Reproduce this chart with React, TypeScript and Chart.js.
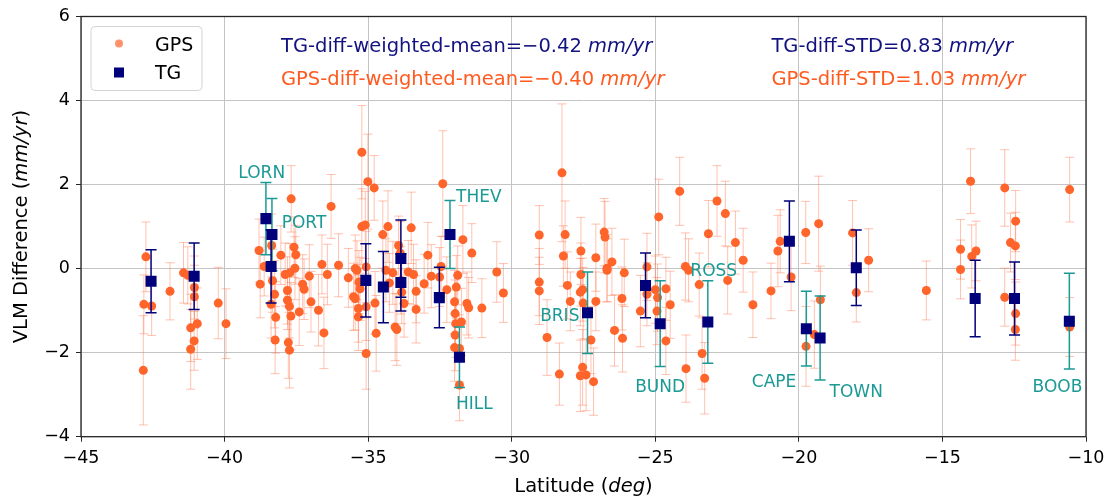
import React, { useEffect, useRef } from 'react';
import { Chart, registerables } from 'chart.js';
Chart.register(...registerables);

// ---------- DATA ----------
const gpsLat = [
  -42.83, -42.81, -42.74, -42.54, -41.90, -41.43, -41.28, -41.18, -41.18, -41.06,
  -41.05, -41.05, -40.95, -40.22, -39.95, -38.80, -38.76, -38.62, -38.36, -38.38,
  -38.33, -38.26, -38.22, -38.24, -38.04, -37.89, -37.81, -37.81, -37.74, -37.73,
  -37.69, -37.68, -37.78, -37.74, -37.58, -37.52, -37.55, -37.40, -37.28, -37.23,
  -37.05, -36.99, -36.73, -36.61, -36.42, -36.54, -36.29, -36.03, -35.69, -35.51,
  -35.45, -35.45, -35.39, -35.34, -35.34, -35.32, -35.28, -35.22, -35.22, -35.10,
  -35.07, -35.07, -35.07, -35.01, -34.79, -34.76, -34.72, -34.49, -34.38, -34.31,
  -34.26, -34.14, -34.06, -34.00, -33.94, -33.88, -33.86, -33.83, -33.75, -33.60,
  -33.50, -33.42, -33.33, -33.33, -33.05, -32.92, -32.80, -32.51, -32.46, -32.40,
  -32.26, -31.99, -31.97, -31.95, -31.97, -31.99, -31.93, -31.88, -31.82, -31.82,
  -31.75, -31.70, -31.56, -31.50, -31.39, -31.04, -30.52, -30.29, -29.04, -29.04,
  -29.04, -28.77, -28.34, -28.25, -28.20, -28.14, -28.06, -27.96, -27.59, -27.59,
  -27.61, -27.53, -27.51, -27.24, -27.53, -27.61, -27.41, -27.15, -27.07, -27.07,
  -26.78, -26.75, -26.68, -26.68, -26.51, -26.42, -26.16, -26.08, -26.14, -25.52,
  -25.29, -25.29, -24.88, -25.00, -24.92, -24.94, -24.63, -24.48, -24.63, -24.15,
  -23.95, -23.84, -23.93, -23.47, -23.37, -23.28, -23.15, -22.85, -22.56, -22.48,
  -22.21, -21.94, -21.60, -20.97, -20.73, -20.65, -20.27, -19.76, -19.75, -19.46,
  -19.31, -19.25, -18.13, -18.00, -17.57, -15.56, -14.37, -14.37, -14.02, -13.98,
  -13.83, -12.83, -12.63, -12.46, -12.45, -12.83, -12.45, -12.46, -10.57, -10.57,
];
const gpsVal = [
  -2.42, -0.85, 0.28, -0.89, -0.54, -0.10, -0.16, -1.41, -1.92, -1.72,
  -0.45, -0.67, -1.31, -0.82, -1.31, 0.43, -0.37, 0.05, 0.55, -0.85,
  -0.29, -0.61, -1.16, -1.70, 0.32, -0.14, -0.52, -0.75, -0.90, -0.10,
  -1.13, 1.66, -1.76, -1.94, 0.51, 0.33, 0.01, -1.03, -0.37, -0.49,
  -0.18, -0.79, -0.99, 0.10, -0.14, -1.53, 1.48, 0.08, -0.22, -0.67,
  0.00, -0.71, -0.04, -0.95, -1.15, -0.32, -0.48, 2.77, 1.00, 1.04,
  0.04, -0.91, -2.02, 2.07, 1.92, -0.82, -1.54, 0.81, -0.04, 1.00,
  -0.34, -0.10, -1.39, -1.45, 0.55, 0.37, -0.28, -0.56, -0.83, -0.08,
  0.97, -0.14, -0.54, -0.97, -0.36, 0.32, -0.18, -0.20, 0.05, 2.02,
  -0.50, -0.79, -1.07, -1.31, -1.58, -1.88, -0.44, -0.16, -1.90, -2.77,
  -1.27, 0.69, -0.83, -0.93, 0.37, -0.94, -0.08, -0.58, 0.80, -0.32,
  -0.53, -1.64, -2.51, 2.28, 0.30, 0.81, -0.40, -0.78, 0.42, -0.14,
  -0.56, -0.50, -0.82, -1.70, -2.35, -2.55, -2.53, -2.69, 0.26, -0.78,
  0.87, 0.75, 0.01, -0.04, 0.16, -1.47, -0.71, -0.10, -1.66, -1.01,
  0.04, -0.61, 1.23, -0.50, -0.69, -1.01, -0.48, -0.86, -1.72, 1.84,
  0.05, -0.04, -2.38, -0.38, -2.02, -2.61, 0.83, 1.61, 1.31, -0.28,
  0.62, 0.20, -0.86, -0.53, 0.42, 0.65, -0.20, 0.86, -1.85, -1.57,
  1.07, -0.74, 0.85, -0.57, 0.20, -0.52, 0.46, -0.02, 2.08, 0.29,
  0.42, 1.92, 0.62, 0.54, 1.13, -0.68, -1.07, -1.45, 1.88, -1.39,
];
const gpsErr = [
  1.30, 0.70, 0.83, 0.70, 0.68, 0.72, 0.68, 0.80, 0.95, 0.70,
  0.75, 0.75, 0.85, 0.85, 0.83, 0.75, 0.80, 0.70, 0.75, 0.80,
  0.75, 0.80, 0.85, 0.80, 0.70, 0.75, 0.80, 0.70, 0.75, 0.70,
  0.80, 0.79, 0.85, 0.90, 0.72, 0.70, 0.75, 0.80, 0.70, 0.72,
  0.75, 0.72, 0.85, 0.70, 0.72, 0.85, 0.76, 0.75, 0.70, 0.80,
  0.80, 0.75, 0.70, 0.80, 0.80, 0.75, 0.75, 1.11, 0.90, 0.80,
  0.85, 0.80, 0.85, 1.13, 0.77, 0.75, 0.90, 0.80, 0.75, 0.85,
  0.70, 0.75, 0.80, 0.85, 0.70, 0.75, 0.80, 0.75, 0.80, 0.75,
  0.85, 0.72, 0.75, 0.80, 0.70, 0.78, 0.75, 0.70, 0.72, 1.26,
  0.78, 0.75, 0.80, 0.80, 0.85, 0.80, 0.75, 0.70, 0.80, 0.85,
  0.80, 0.81, 0.75, 0.72, 0.70, 0.70, 0.72, 0.70, 0.70, 0.80,
  0.80, 0.90, 0.74, 1.64, 0.72, 0.80, 0.80, 0.70, 0.80, 0.75,
  0.80, 0.75, 0.85, 0.80, 0.90, 0.85, 0.85, 0.80, 0.80, 0.70,
  0.80, 0.85, 0.80, 0.75, 0.80, 0.85, 0.75, 0.80, 0.80, 0.85,
  0.80, 0.75, 0.90, 0.80, 0.80, 0.80, 0.75, 0.80, 0.80, 0.81,
  0.80, 0.75, 0.80, 0.75, 0.85, 0.85, 0.79, 0.84, 0.77, 0.80,
  0.75, 0.76, 0.78, 0.66, 0.85, 0.75, 0.80, 0.74, 0.95, 0.80,
  1.13, 0.80, 0.77, 0.70, 0.75, 0.70, 0.71, 0.70, 0.77, 0.75,
  0.71, 0.91, 0.70, 0.80, 0.73, 0.69, 0.75, 0.73, 0.77, 0.70,
];

const tgLat = [
  -42.56, -41.06, -38.56, -38.35, -38.38, -35.08, -34.47, -33.86, -33.86, -32.52,
  -32.15, -31.82, -27.36, -25.34, -24.83, -23.17, -20.33, -19.74, -19.26, -18.00,
  -13.86, -12.49, -10.58,
];
const tgVal = [
  -0.30, -0.18, 1.19, 0.81, 0.05, -0.28, -0.44, 0.24, -0.33, -0.69,
  0.81, -2.11, -1.05, -0.40, -1.31, -1.27, 0.65, -1.43, -1.65, 0.02,
  -0.71, -0.71, -1.25,
];
const tgErr = [
  0.75, 0.79, 0.86, 0.86, 0.87, 0.87, 0.85, 0.92, 0.68, 0.72,
  0.81, 0.72, 0.97, 0.77, 1.02, 0.98, 0.96, 0.89, 1.00, 0.90,
  0.91, 0.87, 1.14,
];
const tgName = [
  '', '', 'LORN', 'PORT', '', '', '', '', '', '',
  'THEV', 'HILL', 'BRIS', '', 'BUND', 'ROSS', '', 'CAPE', 'TOWN', '',
  '', '', 'BOOB',
];

// station label anchors (data units: latitude, VLM difference)
const labelText = ['LORN', 'PORT', 'THEV', 'HILL', 'BRIS', 'BUND', 'ROSS', 'CAPE', 'TOWN', 'BOOB'];
const labelLat = [-39.52, -38.01, -31.94, -31.94, -29.01, -25.70, -23.78, -21.64, -18.93, -11.86];
const labelVal = [2.16, 0.97, 1.58, -3.35, -1.25, -2.93, -0.18, -2.81, -3.06, -2.93];

const xMin = -45, xMax = -10, xStep = 5;
const yMin = -4, yMax = 6, yStep = 2;

const tgMean = '−0.42';
const gpsMean = '−0.40';
const tgStd = '0.83';
const gpsStd = '1.03';

// ---------- STYLE ----------
const FONT = '"DejaVu Sans", "Liberation Sans", sans-serif';
const GPS_COLOR = 'rgb(255,100,42)';
const GPS_ERR = 'rgba(255,120,80,0.45)';
const TG_COLOR = '#00007a';
const TEAL = '#1b9a95';
const GPS_TEXT = '#ff5b20';
const TG_TEXT = '#131380';

const fmt = (v: number | string) => String(v).replace('-', '\u2212');

function drawRich(ctx: CanvasRenderingContext2D, parts: [string, boolean][], x: number, y: number, size: number, color: string, align: 'left' | 'center') {
  const widths = parts.map(([t, it]) => {
    ctx.font = `${it ? 'italic ' : ''}${size}px ${FONT}`;
    return ctx.measureText(t).width;
  });
  const total = widths.reduce((a, b) => a + b, 0);
  let cx = align === 'center' ? x - total / 2 : x;
  ctx.fillStyle = color;
  ctx.textAlign = 'left';
  ctx.textBaseline = 'alphabetic';
  parts.forEach(([t, it], i) => {
    ctx.font = `${it ? 'italic ' : ''}${size}px ${FONT}`;
    ctx.fillText(t, cx, y);
    cx += widths[i];
  });
}

function errBar(ctx: CanvasRenderingContext2D, x: number, y1: number, y2: number, cap: number) {
  ctx.beginPath();
  ctx.moveTo(x, y1); ctx.lineTo(x, y2);
  ctx.moveTo(x - cap, y1); ctx.lineTo(x + cap, y1);
  ctx.moveTo(x - cap, y2); ctx.lineTo(x + cap, y2);
  ctx.stroke();
}

const customPlugin = {
  id: 'vlmCustom',
  beforeDatasetDraw(chart: any, args: any) {
    const ctx: CanvasRenderingContext2D = chart.ctx;
    const xs = chart.scales.x, ys = chart.scales.y;
    const a = chart.chartArea;
    ctx.save();
    ctx.beginPath();
    ctx.rect(a.left, a.top, a.right - a.left, a.bottom - a.top);
    ctx.clip();
    if (args.index === 0) {
      ctx.strokeStyle = GPS_ERR;
      ctx.lineWidth = 1;
      gpsLat.forEach((lat, i) => {
        const px = xs.getPixelForValue(lat);
        errBar(ctx, px, ys.getPixelForValue(gpsVal[i] + gpsErr[i]), ys.getPixelForValue(gpsVal[i] - gpsErr[i]), 4.5);
      });
    } else if (args.index === 1) {
      ctx.lineWidth = 1.5;
      tgLat.forEach((lat, i) => {
        ctx.strokeStyle = tgName[i] ? TEAL : TG_COLOR;
        const px = xs.getPixelForValue(lat);
        errBar(ctx, px, ys.getPixelForValue(tgVal[i] + tgErr[i]), ys.getPixelForValue(tgVal[i] - tgErr[i]), 5.5);
      });
    }
    ctx.restore();
  },
  afterDraw(chart: any) {
    const ctx: CanvasRenderingContext2D = chart.ctx;
    const xs = chart.scales.x, ys = chart.scales.y;
    const a = chart.chartArea;
    ctx.save();
    // frame
    ctx.strokeStyle = '#262626';
    ctx.lineWidth = 1.3;
    ctx.strokeRect(a.left, a.top, a.right - a.left, a.bottom - a.top);

    // station labels
    ctx.font = `17px ${FONT}`;
    ctx.fillStyle = TEAL;
    ctx.textAlign = 'left';
    ctx.textBaseline = 'alphabetic';
    labelText.forEach((t, i) => {
      ctx.fillText(t, xs.getPixelForValue(labelLat[i]), ys.getPixelForValue(labelVal[i]));
    });

    // statistics text (axes fractions)
    const W = a.right - a.left, H = a.bottom - a.top;
    const ax = (f: number) => a.left + f * W;
    const ay = (f: number) => a.bottom - f * H;
    drawRich(ctx, [[`TG-diff-weighted-mean=${tgMean} `, false], ['mm/yr', true]], ax(0.199), ay(0.9165), 19.5, TG_TEXT, 'left');
    drawRich(ctx, [[`GPS-diff-weighted-mean=${gpsMean} `, false], ['mm/yr', true]], ax(0.199), ay(0.838), 19.5, GPS_TEXT, 'left');
    drawRich(ctx, [[`TG-diff-STD=${tgStd} `, false], ['mm/yr', true]], ax(0.687), ay(0.9165), 19.5, TG_TEXT, 'left');
    drawRich(ctx, [[`GPS-diff-STD=${gpsStd} `, false], ['mm/yr', true]], ax(0.687), ay(0.838), 19.5, GPS_TEXT, 'left');

    // legend
    const lx = a.left + 10, ly = a.top + 10, lw = 111, lh = 64;
    ctx.fillStyle = 'rgba(255,255,255,0.85)';
    ctx.strokeStyle = '#d4d4d4';
    ctx.lineWidth = 1;
    ctx.beginPath();
    (ctx as any).roundRect(lx, ly, lw, lh, 4);
    ctx.fill();
    ctx.stroke();
    ctx.fillStyle = 'rgba(255,110,60,0.75)';
    ctx.beginPath();
    ctx.arc(lx + 28, ly + 17, 4, 0, Math.PI * 2);
    ctx.fill();
    ctx.fillStyle = TG_COLOR;
    ctx.fillRect(lx + 23, ly + 41, 10, 10);
    ctx.fillStyle = '#000';
    ctx.font = `19px ${FONT}`;
    ctx.fillText('GPS', lx + 64, ly + 24);
    ctx.fillText('TG', lx + 64, ly + 52.5);

    // axis titles
    drawRich(ctx, [['Latitude (', false], ['deg', true], [')', false]], (a.left + a.right) / 2, 492, 19.5, '#000', 'center');
    ctx.save();
    ctx.translate(26.5, (a.top + a.bottom) / 2);
    ctx.rotate(-Math.PI / 2);
    drawRich(ctx, [['VLM Difference (', false], ['mm/yr', true], [')', false]], 0, 0, 19.5, '#000', 'center');
    ctx.restore();
    ctx.restore();
  },
};

export default function App() {
  const ref = useRef<HTMLCanvasElement | null>(null);
  useEffect(() => {
    if (!ref.current) return;
    const chart = new Chart(ref.current, {
      type: 'scatter',
      data: {
        datasets: [
          {
            label: 'GPS',
            data: gpsLat.map((x, i) => ({ x, y: gpsVal[i] })),
            backgroundColor: GPS_COLOR,
            borderWidth: 0,
            pointRadius: 4.5,
            order: 2,
          },
          {
            label: 'TG',
            data: tgLat.map((x, i) => ({ x, y: tgVal[i] })),
            backgroundColor: TG_COLOR,
            borderWidth: 0,
            pointStyle: 'rect',
            pointRadius: 7.8,
            order: 1,
          },
        ],
      },
      options: {
        animation: false,
        responsive: false,
        devicePixelRatio: 1,
        events: [],
        layout: { padding: { left: 0, right: 27, top: 16, bottom: 0 } },
        plugins: { legend: { display: false }, tooltip: { enabled: false } },
        scales: {
          x: {
            type: 'linear',
            min: xMin,
            max: xMax,
            ticks: {
              stepSize: xStep,
              callback: (v: any) => fmt(v),
              font: { family: FONT, size: 17.5 },
              color: '#000',
              padding: 6,
              maxRotation: 0,
            },
            grid: { color: '#c4c4c4', lineWidth: 1, tickLength: 5, tickColor: '#262626' },
            border: { display: false },
            afterFit: (s: any) => { s.height = 62.3; },
          },
          y: {
            type: 'linear',
            min: yMin,
            max: yMax,
            ticks: {
              stepSize: yStep,
              callback: (v: any) => fmt(v),
              font: { family: FONT, size: 17.5 },
              color: '#000',
              padding: 6,
            },
            grid: { color: '#c4c4c4', lineWidth: 1, tickLength: 5, tickColor: '#262626' },
            border: { display: false },
            afterFit: (s: any) => { s.width = 81; },
          },
        },
      },
      plugins: [customPlugin],
    } as any);
    return () => chart.destroy();
  }, []);
  return (
    <div style={{ position: 'fixed', left: 0, top: 0, width: 1113, height: 499, background: '#fff' }}>
      <canvas ref={ref} width={1113} height={499} style={{ display: 'block' }} />
    </div>
  );
}
